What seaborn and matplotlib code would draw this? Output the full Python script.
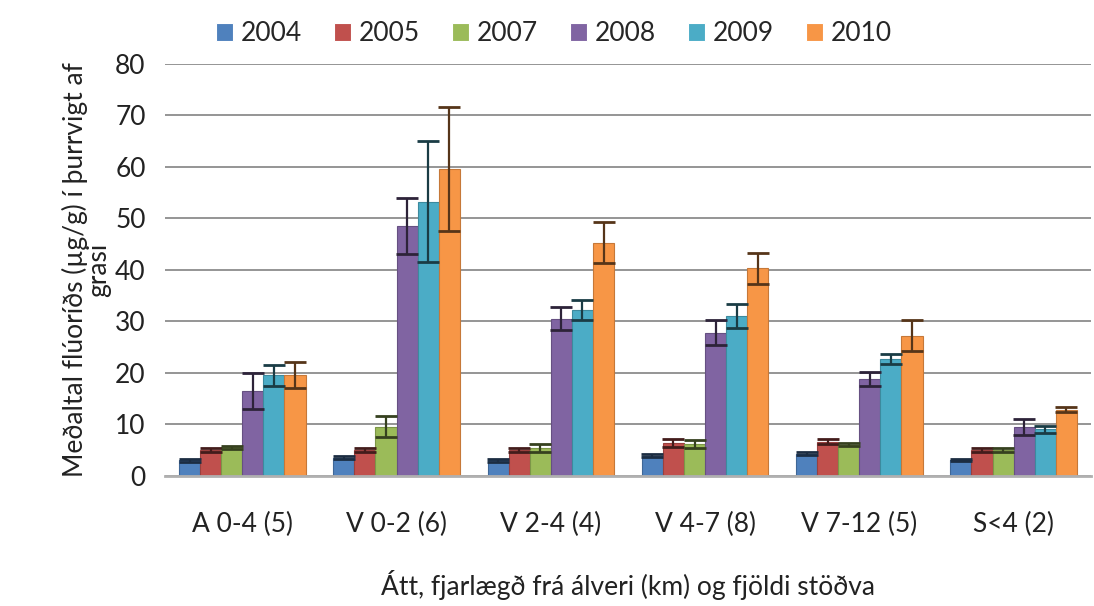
import pandas as pd
import seaborn as sns
import matplotlib.pyplot as plt
import matplotlib.colors as mcolors
import numpy as np

# Data
stations = ['A 0-4 (5)', 'V 0-2 (6)', 'V 2-4 (4)', 'V 4-7 (8)', 'V 7-12 (5)', 'S<4 (2)']
years = ['2004', '2005', '2007', '2008', '2009', '2010']

means = {
    '2004': [3.0, 3.5, 3.0, 3.9, 4.3, 3.0],
    '2005': [5.0, 5.0, 5.0, 6.3, 6.6, 5.0],
    '2007': [5.5, 9.5, 5.4, 6.2, 6.0, 5.0],
    '2008': [16.5, 48.5, 30.5, 27.8, 18.8, 9.5],
    '2009': [19.5, 53.2, 32.2, 31.0, 22.7, 9.0],
    '2010': [19.5, 59.5, 45.2, 40.3, 27.2, 12.8],
}
errors = {
    '2004': [0.3, 0.3, 0.3, 0.3, 0.3, 0.2],
    '2005': [0.3, 0.3, 0.3, 0.8, 0.5, 0.3],
    '2007': [0.3, 2.0, 0.7, 0.8, 0.3, 0.3],
    '2008': [3.5, 5.5, 2.2, 2.5, 1.4, 1.5],
    '2009': [2.0, 11.7, 2.0, 2.3, 1.0, 0.7],
    '2010': [2.5, 12.0, 4.0, 3.0, 3.0, 0.5],
}
palette = ['#4F81BD', '#C0504D', '#9BBB59', '#8064A2', '#4BACC6', '#F79646']

rows = []
for y in years:
    for i, s in enumerate(stations):
        rows.append({'stod': s, 'ar': y, 'gildi': means[y][i], 'villa': errors[y][i]})
df = pd.DataFrame(rows)

sns.set_style('white')
plt.rcParams['font.family'] = ['Lato', 'DejaVu Sans']

fig, ax = plt.subplots(figsize=(10.94, 6.06), dpi=100)
fig.subplots_adjust(left=0.151, right=0.997, top=0.895, bottom=0.215)

sns.barplot(data=df, x='stod', y='gildi', hue='ar', hue_order=years, order=stations,
            palette=palette, errorbar=None, width=0.82, saturation=1, ax=ax,
            linewidth=0.8)

# edges a bit darker, and error bars from each bar's position
for cont, y, c in zip(ax.containers, years, palette):
    dark = np.array(mcolors.to_rgb(c)) * 0.35
    for bar, e in zip(cont, errors[y]):
        bar.set_edgecolor(np.array(mcolors.to_rgb(c)) * 0.8)
        xc = bar.get_x() + bar.get_width() / 2
        ax.errorbar(xc, bar.get_height(), yerr=e, fmt='none', ecolor=dark,
                    elinewidth=1.6, capsize=8, capthick=2, zorder=5)

ax.set_ylim(0, 80)
ax.set_yticks(range(0, 81, 10))
ax.set_xlim(-0.5, len(stations) - 0.5)
ax.yaxis.grid(True, color='#8c8c8c', linewidth=1.3)
ax.set_axisbelow(True)
for side in ['top', 'right', 'left']:
    ax.spines[side].set_visible(False)
ax.spines['bottom'].set_color('#b0b0b0')
ax.spines['bottom'].set_linewidth(2)
ax.tick_params(axis='both', length=0, labelsize=19, colors='#222222')
ax.tick_params(axis='x', pad=26)
ax.tick_params(axis='y', pad=14)

ax.set_xlabel('Átt, fjarlægð frá álveri (km) og fjöldi stöðva', fontsize=19,
              color='#222222', labelpad=24)
ax.set_ylabel('Meðaltal flúoríðs (µg/g) í þurrvigt af\ngrasi', fontsize=19,
              color='#222222', labelpad=3, linespacing=0.9)

ax.legend(loc='lower center', bbox_to_anchor=(0.42, 1.01), ncol=6, frameon=False,
          fontsize=19, handlelength=0.65, handleheight=0.65, handletextpad=0.3,
          columnspacing=1.2, borderaxespad=0.1)

fig.savefig('out.png', dpi=100)
